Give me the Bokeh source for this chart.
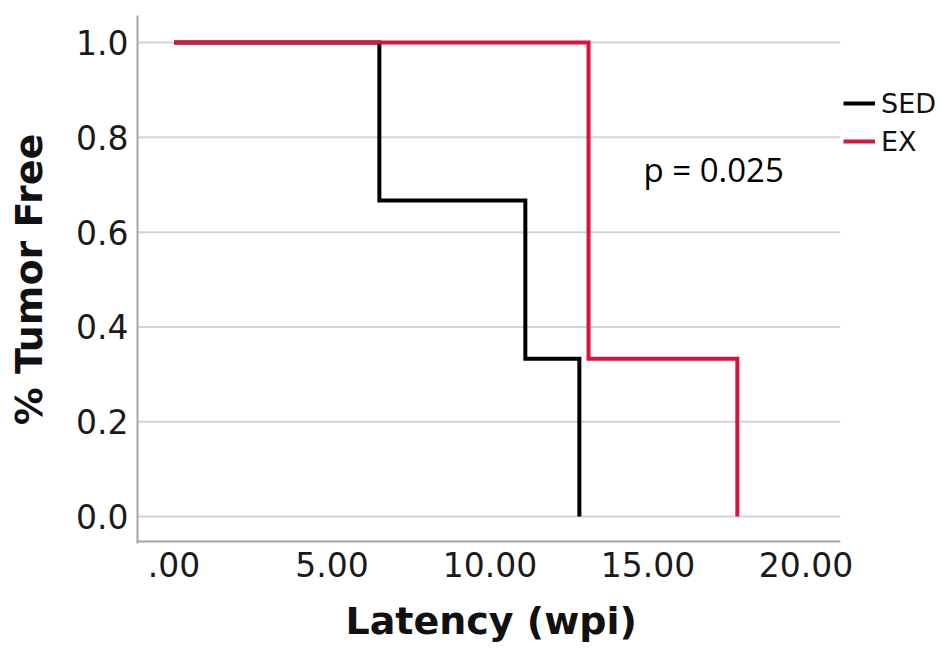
from bokeh.plotting import figure
from bokeh.models import Range1d, FixedTicker, PrintfTickFormatter, Legend, LegendItem, Label
from bokeh.embed import file_html
from bokeh.resources import INLINE

# Data (Kaplan-Meier step curves)
sed_time = [0.0, 6.50, 11.12, 12.83]
sed_surv = [1.0, 0.667, 0.333, 0.0]
ex_time = [0.0, 13.12, 17.83]
ex_surv = [1.0, 0.333, 0.0]
x_ticks = [0, 5, 10, 15, 20]
x_tick_labels = [".00", "5.00", "10.00", "15.00", "20.00"]
y_ticks = [0.0, 0.2, 0.4, 0.6, 0.8, 1.0]
series_names = ["SED", "EX"]
x_title = "Latency (wpi)"
y_title = "% Tumor Free"
p_text = "p = 0.025"

RED = "#d7143c"
FONT = "DejaVu Sans"
AXIS_GRAY = "#a6a6a6"

# visible axis extent (the frame itself extends further right to hold the legend)
x_min, x_axis_end = -1.155, 21.09
y_axis_line = -0.0525

p = figure(width=946, height=660, output_backend="svg", toolbar_location=None,
           x_range=Range1d(x_min, 24.45), y_range=Range1d(-0.0567, 1.057),
           min_border_left=137, min_border_right=0, min_border_top=15, min_border_bottom=115)
p.outline_line_color = None
p.background_fill_color = "white"
p.border_fill_color = "white"

# horizontal grid lines, limited to the axis extent
p.segment(x0=[x_min] * len(y_ticks), x1=[x_axis_end] * len(y_ticks), y0=y_ticks, y1=y_ticks,
          line_color="#d4d4d4", line_width=2)
# bottom axis line
p.segment(x0=[x_min], x1=[x_axis_end], y0=[y_axis_line], y1=[y_axis_line],
          line_color=AXIS_GRAY, line_width=2)

r_sed = p.step(sed_time, sed_surv, mode="after", line_color="black", line_width=4, line_join="miter")
r_ex = p.step(ex_time, ex_surv, mode="after", line_color=RED, line_width=4, line_join="miter")

# axes
p.xaxis.ticker = FixedTicker(ticks=x_ticks)
p.xaxis.major_label_overrides = {t: l for t, l in zip(x_ticks, x_tick_labels)}
p.yaxis.ticker = FixedTicker(ticks=y_ticks)
p.yaxis.formatter = PrintfTickFormatter(format="%.1f")
for ax in (p.xaxis, p.yaxis):
    ax.major_tick_out = 0
    ax.major_tick_in = 0
    ax.minor_tick_out = 0
    ax.minor_tick_in = 0
    ax.axis_line_color = AXIS_GRAY
    ax.axis_line_width = 2
    ax.major_label_text_font = FONT
    ax.major_label_text_font_size = "33px"
    ax.major_label_text_color = "#1a1a1a"
    ax.axis_label_text_font = FONT
    ax.axis_label_text_font_style = "bold"
    ax.axis_label_text_font_size = "38px"
    ax.axis_label_text_color = "#111111"
p.xaxis.axis_line_color = None
p.yaxis.axis_label = y_title
p.xaxis.major_label_standoff = 8
p.yaxis.major_label_standoff = 9
p.yaxis.axis_label_standoff = 22

# x-axis title, centred under the visible axis (frame extends past it for the legend)
p.title_location = "below"
p.title.text = x_title
p.title.align = "left"
p.title.offset = 208
p.title.standoff = 35
p.title.text_font = FONT
p.title.text_font_style = "bold"
p.title.text_font_size = "38px"
p.title.text_color = "#111111"

p.xgrid.grid_line_color = None
p.ygrid.grid_line_color = None

# annotation
p.add_layout(Label(x=14.86, y=0.732, text=p_text, text_font="Open Sans",
                   text_font_size="33px", text_baseline="middle", text_color="black"))

legend = Legend(items=[LegendItem(label=series_names[0], renderers=[r_sed]),
                       LegendItem(label=series_names[1], renderers=[r_ex])],
                location=(706, 383), padding=0, margin=0, spacing=0,
                glyph_width=32, glyph_height=38, label_height=38, label_standoff=6,
                label_text_font=FONT, label_text_font_size="27px", label_text_color="#111111",
                background_fill_alpha=0, border_line_color=None)
p.add_layout(legend, "center")

open("out.html", "w").write(file_html(p, INLINE))
